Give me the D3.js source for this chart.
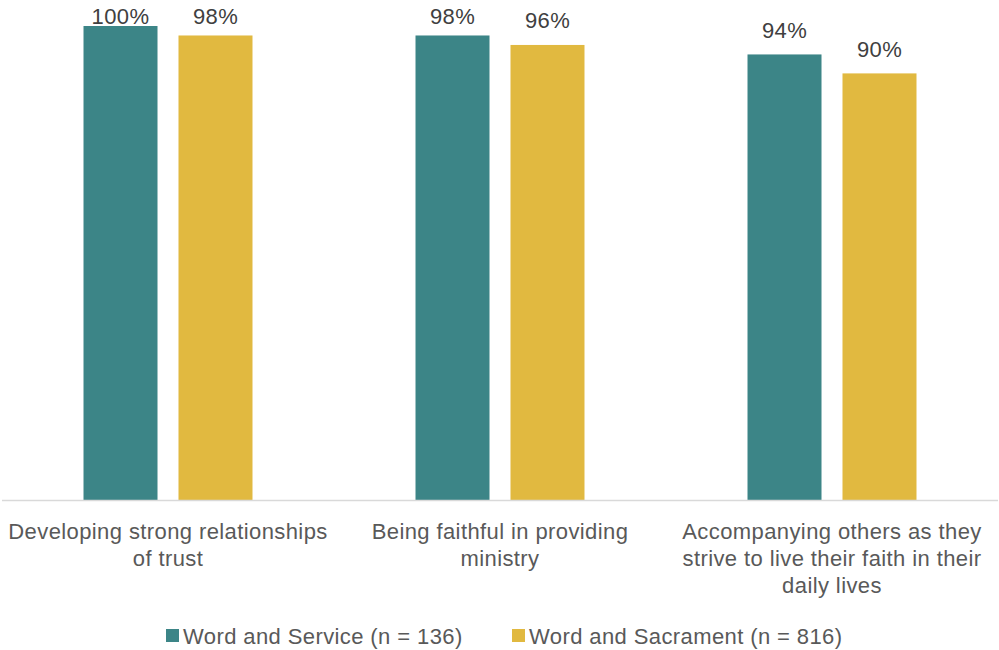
<!DOCTYPE html>
<html>
<head>
<meta charset="utf-8">
<script src="https://cdn.jsdelivr.net/npm/d3@7"></script>
<style>
  html, body { margin: 0; padding: 0; background: #fff; }
  svg { display: block; font-family: "Liberation Sans", Arial, sans-serif; letter-spacing: 0.4px; }
</style>
</head>
<body>
<svg id="chart" width="999" height="650"></svg>
<script>
// Share of respondents rating each practice as important, by roster
const categories = [
  "Developing strong relationships of trust",
  "Being faithful in providing ministry",
  "Accompanying others as they strive to live their faith in their daily lives"
];
const seriesNames = ["Word and Service (n = 136)", "Word and Sacrament (n = 816)"];
const wordAndService = [100, 98, 94];
const wordAndSacrament = [98, 96, 90];
const seriesColors = ["#3c8587", "#e1b940"];

const rows = categories.map((c, i) => ({
  category: c,
  values: [wordAndService[i], wordAndSacrament[i]]
}));

const svg = d3.select("#chart");
const baseY = 500, topY = 26;
const left = 2, right = 998;
const fontSize = 22;

const x0 = d3.scaleBand().domain(categories).range([left, right]).padding(0);
const x1 = d3.scaleBand().domain(d3.range(seriesNames.length))
  .range([0, x0.bandwidth()]).paddingInner(0.221).paddingOuter(0.858);
const y = d3.scaleLinear().domain([0, 100]).range([baseY, topY]);

// Bars
const groups = svg.append("g").selectAll("g").data(rows).join("g")
  .attr("transform", d => `translate(${x0(d.category)},0)`);

groups.selectAll("rect").data(d => d.values.map((v, k) => ({ v, k }))).join("rect")
  .attr("x", d => x1(d.k))
  .attr("width", x1.bandwidth())
  .attr("y", d => y(d.v))
  .attr("height", d => baseY - y(d.v))
  .attr("fill", d => seriesColors[d.k]);

// Value labels above each bar, kept inside the top edge of the chart
groups.selectAll("text.val").data(d => d.values.map((v, k) => ({ v, k }))).join("text")
  .attr("class", "val")
  .attr("x", d => x1(d.k) + x1.bandwidth() / 2)
  .attr("y", d => Math.max(y(d.v) - 16.5, 23.5))
  .attr("text-anchor", "middle")
  .attr("font-size", fontSize)
  .attr("fill", "#404040")
  .text(d => d.v + "%");

// Baseline
svg.append("line")
  .attr("x1", left).attr("x2", right)
  .attr("y1", baseY + 0.5).attr("y2", baseY + 0.5)
  .attr("stroke", "#d9d9d9").attr("stroke-width", 1.5);

// Category labels, wrapped to the band width
function wrap(text, width) {
  text.each(function () {
    const t = d3.select(this);
    const words = t.text().split(/\s+/);
    const xPos = t.attr("x");
    t.text(null);
    let line = [];
    let tspan = t.append("tspan").attr("x", xPos).attr("dy", 0);
    for (const w of words) {
      line.push(w);
      tspan.text(line.join(" "));
      if (tspan.node().getComputedTextLength() > width && line.length > 1) {
        line.pop();
        tspan.text(line.join(" "));
        line = [w];
        tspan = t.append("tspan").attr("x", xPos).attr("dy", 27).text(w);
      }
    }
  });
}

svg.append("g").selectAll("text").data(categories).join("text")
  .attr("x", d => x0(d) + x0.bandwidth() / 2)
  .attr("y", 539)
  .attr("text-anchor", "middle")
  .attr("font-size", fontSize)
  .attr("fill", "#595959")
  .text(d => d)
  .call(wrap, 326);

// Legend
const legendItems = [
  { name: seriesNames[0], color: seriesColors[0], x: 166 },
  { name: seriesNames[1], color: seriesColors[1], x: 512 }
];
const lg = svg.append("g").selectAll("g").data(legendItems).join("g")
  .attr("transform", d => `translate(${d.x},0)`);
lg.append("rect").attr("x", 0).attr("y", 629).attr("width", 13).attr("height", 13)
  .attr("fill", d => d.color);
lg.append("text").attr("x", 17).attr("y", 644)
  .attr("font-size", fontSize).attr("fill", "#595959")
  .text(d => d.name);
</script>
</body>
</html>
